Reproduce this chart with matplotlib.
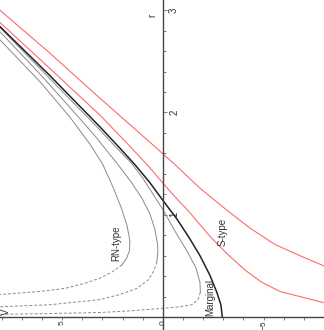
import matplotlib.pyplot as plt
from matplotlib.ticker import MultipleLocator, FixedLocator

plt.rcParams['font.family'] = ['Liberation Sans', 'DejaVu Sans']

# Marginal curve (black)
marg_V = [8.09, 5.61, 3.13, 2.13, 1.39, 0.65, 0.0, -0.69, -1.29, -1.84, -2.33, -2.68, -2.88, -2.95]
marg_r = [2.84, 2.36, 1.86, 1.65, 1.49, 1.315, 1.14, 0.96, 0.78, 0.60, 0.41, 0.24, 0.12, 0.0]

# S-type curves (red)
s1_V = [8.09, 5.61, 3.13, 0.65, -0.60, -1.84, -3.08, -4.32, -5.56, -6.80, -8.0]
s1_r = [3.00, 2.58, 2.14, 1.71, 1.49, 1.26, 1.06, 0.87, 0.71, 0.60, 0.50]
s2_V = [8.09, 5.61, 3.13, 1.64, 0.65, -0.35, -1.34, -2.33, -3.18, -4.07, -4.91, -5.81, -6.80, -8.0]
s2_r = [2.88, 2.43, 1.975, 1.67, 1.46, 1.23, 1.02, 0.79, 0.62, 0.46, 0.34, 0.25, 0.20, 0.14]

# RN-type curves (grey): solid outer branch, dashed inner branch
rn1_V = [8.09, 5.61, 3.13, 2.38, 1.59, 1.04, 0.55, 0.0, -0.60, -1.24, -1.64, -1.84, -1.86]
rn1_r = [2.83, 2.33, 1.83, 1.67, 1.51, 1.37, 1.22, 1.05, 0.84, 0.63, 0.48, 0.34, 0.24]
rn1d_V = [-1.86, -1.74, -1.44, -0.84, 0.0, 1.64, 3.13, 5.61, 8.09]
rn1d_r = [0.24, 0.17, 0.12, 0.10, 0.085, 0.06, 0.044, 0.034, 0.026]

rn2_V = [8.09, 6.10, 4.62, 3.37, 2.23, 1.54, 1.04, 0.65, 0.40, 0.27, 0.25, 0.30]
rn2_r = [2.79, 2.375, 2.05, 1.77, 1.49, 1.31, 1.16, 1.01, 0.86, 0.72, 0.64, 0.54]
rn2d_V = [0.30, 0.45, 0.74, 1.29, 2.13, 3.13, 5.61, 8.09]
rn2d_r = [0.54, 0.45, 0.36, 0.28, 0.22, 0.17, 0.12, 0.10]

rn3_V = [8.09, 6.10, 4.62, 3.62, 2.98, 2.48, 2.08, 1.79, 1.64, 1.66, 1.79, 2.03]
rn3_r = [2.71, 2.30, 1.955, 1.69, 1.49, 1.27, 1.075, 0.90, 0.75, 0.65, 0.58, 0.51]
rn3d_V = [2.03, 2.53, 3.13, 3.87, 4.86, 6.10, 8.09]
rn3d_r = [0.51, 0.44, 0.38, 0.33, 0.28, 0.25, 0.22]

fig = plt.figure(figsize=(3.24, 3.30), dpi=100)
ax = fig.add_axes([0, 0, 1, 1])

grey = '#8a8a8a'
red = '#ff6a6a'
dash = (0, (3, 2))

ax.plot(s1_V, s1_r, color=red, lw=0.8)
ax.plot(s2_V, s2_r, color=red, lw=0.8)
ax.plot(rn1_V, rn1_r, color=grey, lw=0.7)
ax.plot(rn1d_V, rn1d_r, color=grey, lw=0.7, linestyle=dash)
ax.plot(rn2_V, rn2_r, color=grey, lw=0.7)
ax.plot(rn2d_V, rn2d_r, color=grey, lw=0.7, linestyle=dash)
ax.plot(rn3_V, rn3_r, color=grey, lw=0.7)
ax.plot(rn3d_V, rn3d_r, color=grey, lw=0.7, linestyle=dash)
ax.plot(marg_V, marg_r, color='#222222', lw=1.1)

ax.set_xlim(8.09, -8.0)
ax.set_ylim(-0.127, 3.10)

ax.spines['top'].set_visible(False)
ax.spines['left'].set_visible(False)
ax.spines['right'].set_position(('data', 0))
ax.spines['bottom'].set_position(('data', 0))
for s in ['right', 'bottom']:
    ax.spines[s].set_color('#444444')
    ax.spines[s].set_linewidth(1.0)

ax.yaxis.tick_right()
ax.xaxis.set_major_locator(MultipleLocator(5))
ax.xaxis.set_minor_locator(MultipleLocator(1))
ax.yaxis.set_major_locator(FixedLocator([1, 2, 3]))
ax.yaxis.set_minor_locator(MultipleLocator(0.2))
ax.tick_params(which='both', direction='out', color='#666666', width=0.6,
               labelsize=7, labelcolor='#333333')
ax.tick_params(which='major', length=3, pad=1.5)
ax.tick_params(which='minor', length=2)
ax.tick_params(axis='x', which='major', length=2, labelrotation=90, labelsize=6, pad=0.5)
ax.tick_params(axis='y', labelrotation=90)
for lab in ax.get_yticklabels():
    lab.set_verticalalignment('center')

ax.text(0.5, 2.95, 'r', rotation=90, fontsize=7, ha='center', va='center', color='#333333')
ax.text(7.8, 0.05, 'V', rotation=90, fontsize=7, ha='center', va='center', color='#333333')
ax.text(2.33, 0.72, 'RN-type', rotation=90, fontsize=7, ha='center', va='center', color='#333333')
ax.text(-2.98, 0.83, 'S-type', rotation=90, fontsize=7, ha='center', va='center', color='#333333')
ax.text(-2.33, 0.19, 'Marginal', rotation=90, fontsize=7, ha='center', va='center', color='#333333')

fig.savefig('out.png', dpi=100)
